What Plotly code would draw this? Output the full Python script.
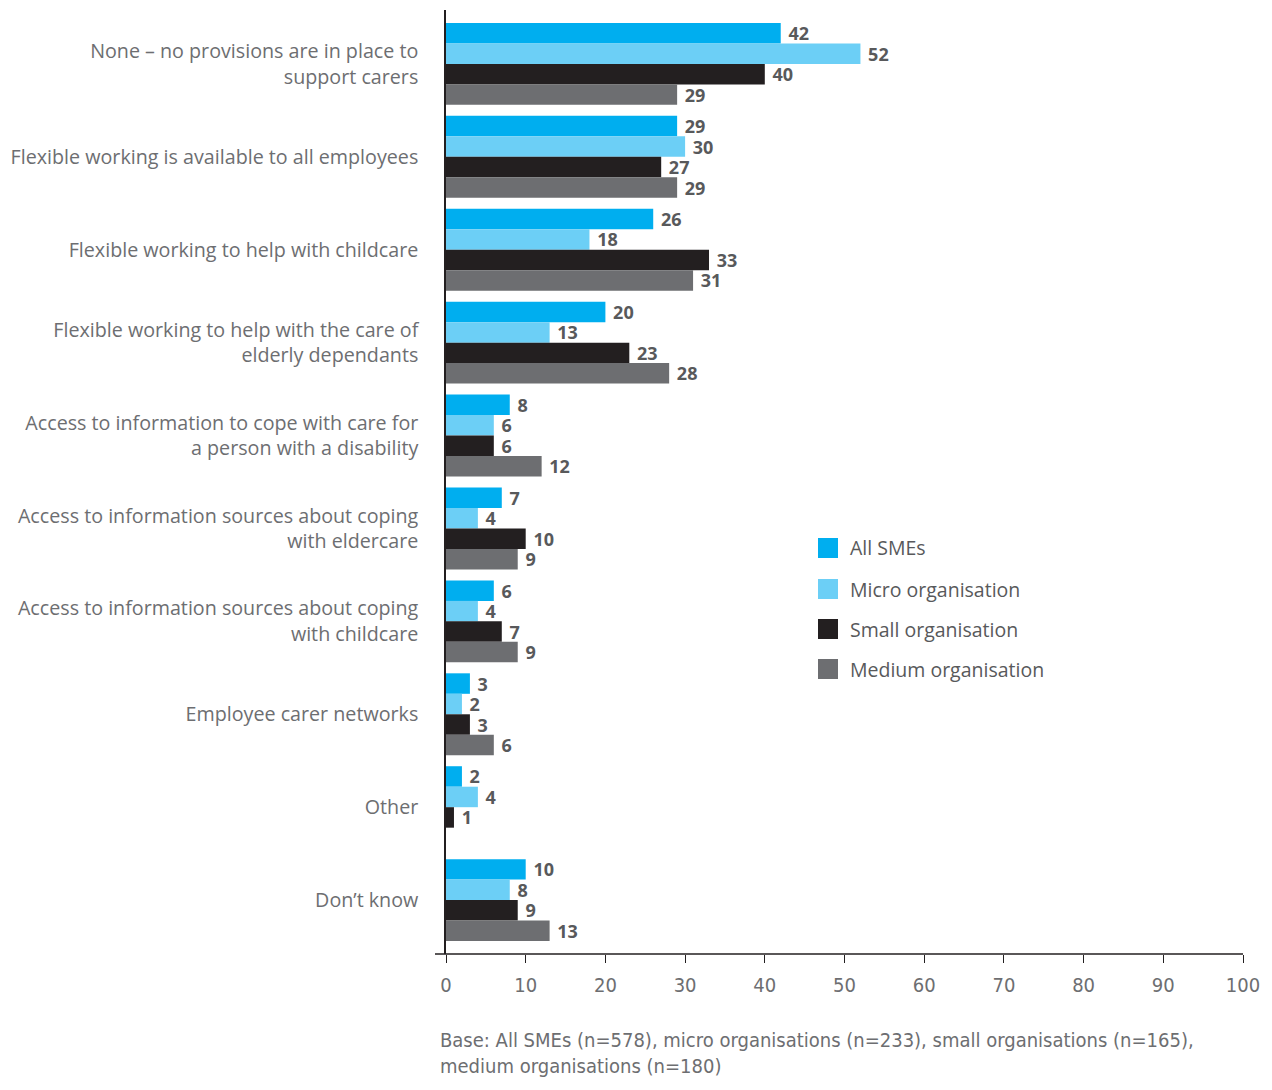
import plotly.graph_objects as go

# Survey categories (top to bottom) and percentage values per organisation size
categories = [
    "None – no provisions are in place to<br>support carers",
    "Flexible working is available to all employees",
    "Flexible working to help with childcare",
    "Flexible working to help with the care of<br>elderly dependants",
    "Access to information to cope with care for<br>a person with a disability",
    "Access to information sources about coping<br>with eldercare",
    "Access to information sources about coping<br>with childcare",
    "Employee carer networks",
    "Other",
    "Don’t know",
]
all_smes = [42, 29, 26, 20, 8, 7, 6, 3, 2, 10]
micro = [52, 30, 18, 13, 6, 4, 4, 2, 4, 8]
small = [40, 27, 33, 23, 6, 10, 7, 3, 1, 9]
medium = [29, 29, 31, 28, 12, 9, 9, 6, None, 13]

series_names = ["All SMEs", "Micro organisation", "Small organisation", "Medium organisation"]
series_values = [all_smes, micro, small, medium]
series_colors = ["#00AEEF", "#6CCFF6", "#231F20", "#6D6E71"]

x_ticks = [0, 10, 20, 30, 40, 50, 60, 70, 80, 90, 100]
footnote = ("Base: All SMEs (n=578), micro organisations (n=233), small organisations (n=165),"
            "<br>medium organisations (n=180)")

W, H = 1272, 1090
L, R, T, B = 446, 29, 10, 136
PW, PH = W - L - R, H - T - B

label_font = "Open Sans, Noto Sans, sans-serif"
narrow_font = "Liberation Sans Narrow, DejaVu Sans Condensed, sans-serif"

fig = go.Figure()
for name, vals, col in zip(series_names, series_values, series_colors):
    fig.add_trace(go.Bar(
        y=categories,
        x=vals,
        orientation="h",
        name=name,
        marker=dict(color=col, line=dict(width=0)),
        text=[(" " + str(v)) if v is not None else "" for v in vals],
        textposition="outside",
        constraintext="none",
        textfont=dict(family=label_font, size=18, color="#58595B", weight="bold"),
        cliponaxis=False,
        showlegend=False,
    ))

shapes = []
annotations = []

# x-axis baseline, extending slightly left of the y-axis
shapes.append(dict(type="line", xref="paper", yref="paper",
                   x0=-11 / PW, x1=1, y0=0, y1=0,
                   line=dict(color="#231F20", width=1.5)))

# legend: coloured squares with labels
legend_y = [548, 589, 629, 669]
for name, col, py in zip(series_names, series_colors, legend_y):
    y0 = (H - B - (py + 10)) / PH
    y1 = (H - B - (py - 10)) / PH
    shapes.append(dict(type="rect", xref="paper", yref="paper",
                       x0=(818 - L) / PW, x1=(838 - L) / PW, y0=y0, y1=y1,
                       fillcolor=col, line=dict(width=0)))
    annotations.append(dict(xref="paper", yref="paper",
                            x=(848 - L) / PW, y=(H - B - py) / PH,
                            xanchor="left", yanchor="middle", showarrow=False,
                            text=name,
                            font=dict(family=label_font, size=19.5, color="#58595B")))

# base note under the chart
annotations.append(dict(xref="paper", yref="paper",
                        x=(438 - L) / PW, y=(H - B - 1026) / PH,
                        xanchor="left", yanchor="top", align="left", showarrow=False,
                        text=footnote,
                        font=dict(family=narrow_font, size=20, color="#6D6E71")))

fig.update_layout(
    width=W, height=H,
    margin=dict(l=L, r=R, t=T, b=B, autoexpand=False),
    paper_bgcolor="white", plot_bgcolor="white",
    barmode="group", bargap=0.118, bargroupgap=0,
    shapes=shapes, annotations=annotations,
    xaxis=dict(
        range=[0, 100], tickvals=x_ticks, ticktext=[str(t) for t in x_ticks],
        showgrid=False, zeroline=False, showline=False,
        ticks="outside", ticklen=8, tickwidth=1.2, tickcolor="#231F20",
        tickfont=dict(family=narrow_font, size=20, color="#6D6E71"),
        ticklabelstandoff=5,
    ),
    yaxis=dict(
        range=[9.58, -0.58], type="category",
        showgrid=False, zeroline=False,
        showline=True, linecolor="#231F20", linewidth=1.5,
        ticks="", ticklabelstandoff=22,
        tickfont=dict(family=label_font, size=19.7, color="#6D6E71"),
    ),
)

fig.write_html("out.html")
